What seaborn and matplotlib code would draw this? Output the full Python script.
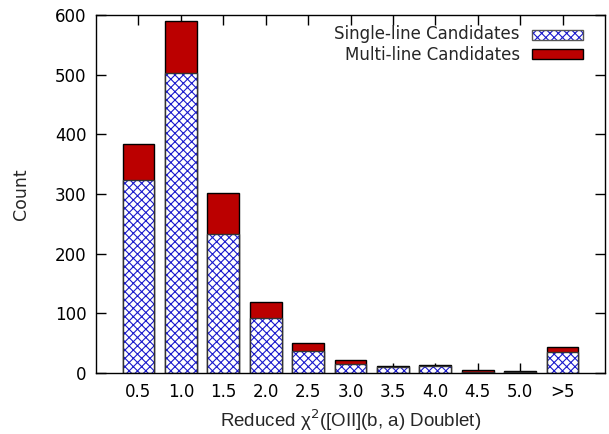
import matplotlib
matplotlib.use("Agg")
import matplotlib.pyplot as plt
import seaborn as sns
import pandas as pd
from matplotlib.patches import Patch, Rectangle

categories = ["0.5", "1.0", "1.5", "2.0", "2.5", "3.0", "3.5", "4.0", "4.5", "5.0", ">5"]
single_line = [323, 502, 233, 93, 37, 15, 10, 11, 2, 1, 35]
multi_line = [60, 88, 68, 26, 14, 6, 1, 3, 3, 3, 8]

totals = [s + m for s, m in zip(single_line, multi_line)]
df = pd.DataFrame({"cat": categories, "single": single_line, "total": totals})

sns.set_style("white")
plt.rcParams["font.family"] = ["DejaVu Sans"]
plt.rcParams["hatch.linewidth"] = 0.8

fig = plt.figure(figsize=(6.09, 4.34), dpi=100)
ax = fig.add_axes([96 / 609, 1 - 373 / 434, (605 - 96) / 609, (373 - 15) / 434])

HATCH_COL = "#1a1acc"
# Multi-line (stacked on top): draw totals in red
sns.barplot(data=df, x="cat", y="total", order=categories, color="#bb0000",
            saturation=1, width=0.75, edgecolor="black", linewidth=1.0, ax=ax)
n = len(ax.patches)
# Single-line hatched fill
sns.barplot(data=df, x="cat", y="single", order=categories, color="white",
            saturation=1, width=0.75, ax=ax)
for p in ax.patches[n:]:
    p.set_hatch("xxxx")
    p.set_edgecolor(HATCH_COL)
    p.set_linewidth(0)
# Outline for single-line bars
sns.barplot(data=df, x="cat", y="single", order=categories, fill=False,
            width=0.75, edgecolor="#333333", linewidth=1.0, ax=ax)

ax.set_xlim(-1, 11)
ax.set_ylim(0, 600)
ax.set_yticks([0, 100, 200, 300, 400, 500, 600])
ax.set_xticks(range(len(categories)))
ax.set_xticklabels(categories)
ax.tick_params(axis="both", direction="in", length=7, width=1, labelsize=12,
               top=True, right=True, bottom=True, left=True, colors="black", pad=7)
for s in ax.spines.values():
    s.set_color("black")
    s.set_linewidth(1.0)
ax.set_xlabel("Reduced χ$^2$([OII](b, a) Doublet)", fontsize=13.5,
              family=["Liberation Sans", "DejaVu Sans"], labelpad=5)
ax.set_ylabel("Count", fontsize=12.5, labelpad=18)


class HatchBoxHandler:
    def legend_artist(self, legend, orig_handle, fontsize, handlebox):
        x0, y0 = handlebox.xdescent, handlebox.ydescent
        w, h = handlebox.width, handlebox.height
        tr = handlebox.get_transform()
        fill = Rectangle((x0, y0), w, h, facecolor="white", edgecolor=HATCH_COL,
                         hatch="xxxx", linewidth=0, transform=tr)
        edge = Rectangle((x0, y0), w, h, facecolor="none", edgecolor="#555555",
                         linewidth=1, transform=tr)
        handlebox.add_artist(fill)
        handlebox.add_artist(edge)
        return edge


h1 = Patch(facecolor="white", edgecolor=HATCH_COL, hatch="xxxx")
h2 = Patch(facecolor="#bb0000", edgecolor="black", linewidth=1)
leg = ax.legend([h1, h2], ["Single-line Candidates", "Multi-line Candidates"],
                handler_map={h1: HatchBoxHandler()},
                loc="upper right", bbox_to_anchor=(1.0, 1.0 + 12 / 358),
                frameon=False, markerfirst=False,
                handlelength=3.1, handleheight=0.5, fontsize=12,
                borderaxespad=0.9, labelspacing=0.2, handletextpad=0.7,
                borderpad=0.4)
for t in leg.get_texts():
    t.set_ha("right")

fig.savefig("out.png", dpi=100)
